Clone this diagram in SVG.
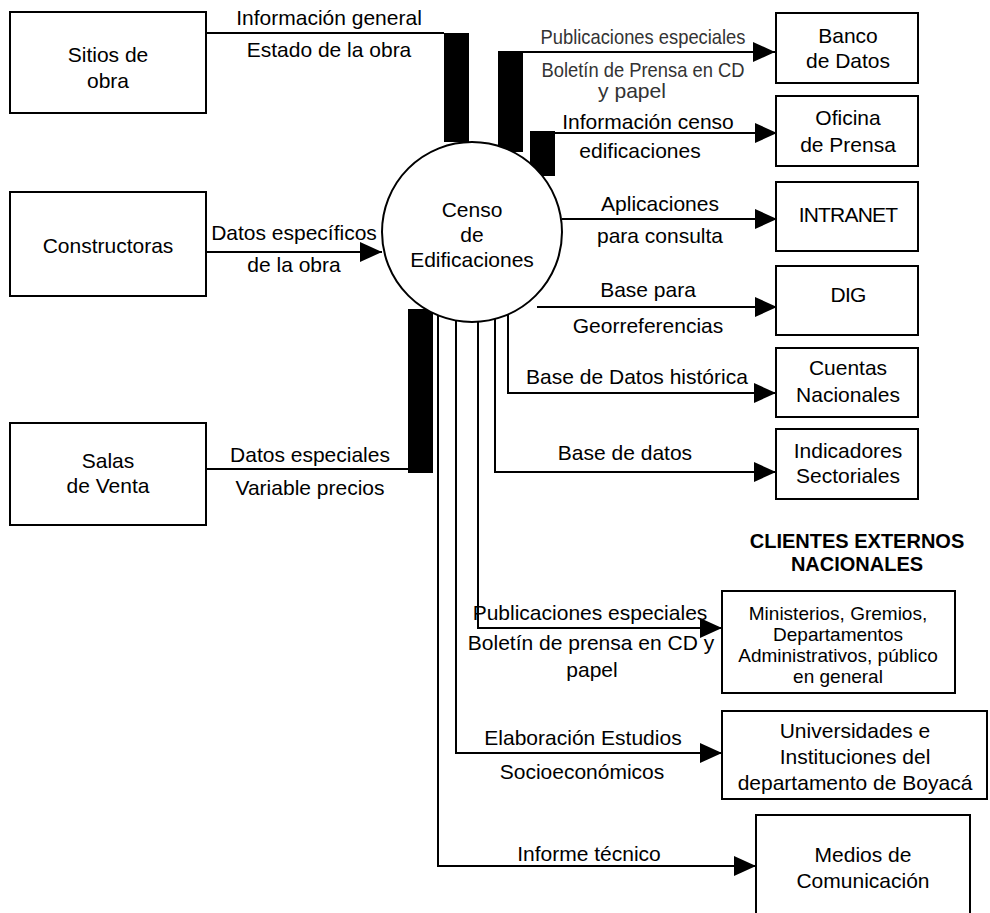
<svg xmlns="http://www.w3.org/2000/svg" width="990" height="913" viewBox="0 0 990 913">
<style>
.box{fill:#fff;stroke:#000;stroke-width:2}
.t{font-family:"Liberation Sans",Arial,sans-serif;font-size:21px;fill:#000;text-anchor:middle}
.s{font-size:19px}
.g{fill:#333}
.b{font-weight:bold;font-size:20px}
.ln{fill:none;stroke:#000;stroke-width:2}
.bar{fill:#000}
</style>
<defs>
<marker id="ar" markerUnits="userSpaceOnUse" markerWidth="22" markerHeight="20" refX="22" refY="10" orient="auto">
<path d="M0,0 L22,10 L0,20 z" fill="#000"/>
</marker>
</defs>
<rect width="990" height="913" fill="#fff"/>

<g id="connectors">
<path class="ln" d="M206,33 H444"/>
<path class="ln" d="M523,52 H775" marker-end="url(#ar)"/>
<path class="ln" d="M555,133 H777" marker-end="url(#ar)"/>
<path class="ln" d="M206,252 H382" marker-end="url(#ar)"/>
<path class="ln" d="M562,219 H777" marker-end="url(#ar)"/>
<path class="ln" d="M537,307 H777" marker-end="url(#ar)"/>
<path class="ln" d="M508,314 V393 H776" marker-end="url(#ar)"/>
<path class="ln" d="M495,319 V472 H776" marker-end="url(#ar)"/>
<path class="ln" d="M478,322 V628 H722" marker-end="url(#ar)"/>
<path class="ln" d="M456,321 V753 H722" marker-end="url(#ar)"/>
<path class="ln" d="M438,315 V866 H756" marker-end="url(#ar)"/>
<path class="ln" d="M206,469 H408"/>
<rect class="bar" x="444" y="33" width="25" height="109"/>
<rect class="bar" x="498" y="51" width="25" height="101"/>
<rect class="bar" x="530" y="131" width="25" height="45"/>
<rect class="bar" x="408" y="309" width="25" height="164"/>
</g>

<g id="labels">
<text class="t" x="329" y="25">Información general</text>
<text class="t" x="329" y="57">Estado de la obra</text>
<text class="t g" x="643" y="44" textLength="205" lengthAdjust="spacingAndGlyphs">Publicaciones especiales</text>
<text class="t g" x="643" y="77" textLength="203" lengthAdjust="spacingAndGlyphs">Boletín de Prensa en CD</text>
<text class="t g" x="632" y="98" textLength="68" lengthAdjust="spacingAndGlyphs">y papel</text>
<text class="t" x="648" y="129">Información censo</text>
<text class="t" x="640" y="158">edificaciones</text>
<text class="t" x="294" y="240">Datos específicos</text>
<text class="t" x="294" y="272">de la obra</text>
<text class="t" x="660" y="211">Aplicaciones</text>
<text class="t" x="660" y="243">para consulta</text>
<text class="t" x="648" y="297">Base para</text>
<text class="t" x="648" y="333">Georreferencias</text>
<text class="t" x="637" y="384">Base de Datos histórica</text>
<text class="t" x="625" y="460">Base de datos</text>
<text class="t" x="310" y="462">Datos especiales</text>
<text class="t" x="310" y="495">Variable precios</text>
<text class="t" x="590" y="620">Publicaciones especiales</text>
<text class="t" x="591" y="650">Boletín de prensa en CD y</text>
<text class="t" x="592" y="677">papel</text>
<text class="t" x="583" y="745">Elaboración Estudios</text>
<text class="t" x="582" y="779">Socioeconómicos</text>
<text class="t" x="589" y="861">Informe técnico</text>
<text class="t b" x="857" y="548">CLIENTES EXTERNOS</text>
<text class="t b" x="857" y="571">NACIONALES</text>
</g>

<g id="censo">
<circle cx="472" cy="232" r="90" class="box"/>
<text class="t" x="472" y="217">Censo</text>
<text class="t" x="472" y="242">de</text>
<text class="t" x="472" y="267">Edificaciones</text>
</g>

<g id="sitios">
<rect class="box" x="10" y="12" width="196" height="101"/>
<text class="t" x="108" y="62">Sitios de</text>
<text class="t" x="108" y="88">obra</text>
</g>
<g id="constructoras">
<rect class="box" x="10" y="192" width="196" height="104"/>
<text class="t" x="108" y="253">Constructoras</text>
</g>
<g id="salas">
<rect class="box" x="10" y="423" width="196" height="102"/>
<text class="t" x="108" y="468">Salas</text>
<text class="t" x="108" y="493">de Venta</text>
</g>
<g id="banco">
<rect class="box" x="776" y="13" width="142" height="70"/>
<text class="t" x="848" y="43">Banco</text>
<text class="t" x="848" y="68">de Datos</text>
</g>
<g id="oficina">
<rect class="box" x="776" y="96" width="142" height="70"/>
<text class="t" x="848" y="125">Oficina</text>
<text class="t" x="848" y="152">de Prensa</text>
</g>
<g id="intranet">
<rect class="box" x="776" y="182" width="142" height="69"/>
<text class="t" x="848" y="222" letter-spacing="-0.8">INTRANET</text>
</g>
<g id="dig">
<rect class="box" x="776" y="266" width="142" height="69"/>
<text class="t" x="848" y="302" letter-spacing="-0.8">DIG</text>
</g>
<g id="cuentas">
<rect class="box" x="776" y="348" width="142" height="69"/>
<text class="t" x="848" y="375">Cuentas</text>
<text class="t" x="848" y="402">Nacionales</text>
</g>
<g id="indicadores">
<rect class="box" x="776" y="429" width="142" height="70"/>
<text class="t" x="848" y="458">Indicadores</text>
<text class="t" x="848" y="483">Sectoriales</text>
</g>
<g id="ministerios">
<rect class="box" x="722" y="591" width="233" height="102"/>
<text class="t s" x="838" y="620">Ministerios, Gremios,</text>
<text class="t s" x="838" y="641">Departamentos</text>
<text class="t s" x="838" y="662">Administrativos, público</text>
<text class="t s" x="838" y="683">en general</text>
</g>
<g id="universidades">
<rect class="box" x="722" y="711" width="265" height="88"/>
<text class="t" x="855" y="738">Universidades e</text>
<text class="t" x="855" y="764">Instituciones del</text>
<text class="t" x="855" y="790">departamento de Boyacá</text>
</g>
<g id="medios">
<rect class="box" x="756" y="815" width="214" height="120"/>
<text class="t" x="863" y="862">Medios de</text>
<text class="t" x="863" y="888">Comunicación</text>
</g>
</svg>
